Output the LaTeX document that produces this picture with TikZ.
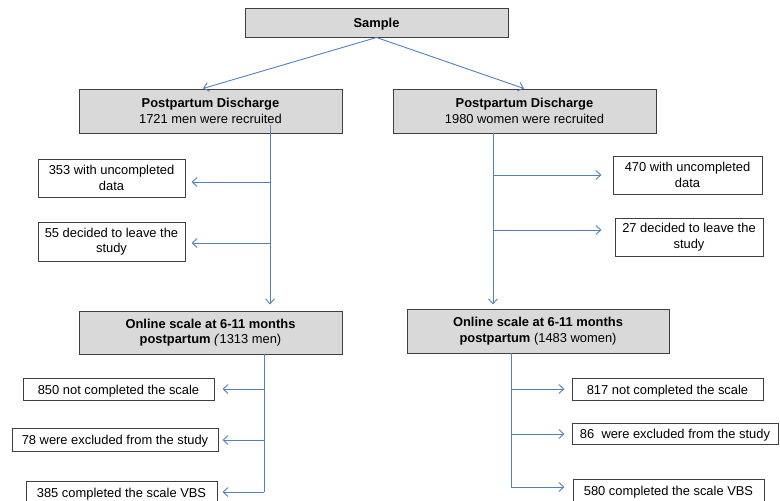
\documentclass[tikz,border=0pt]{standalone}
\usepackage{fontspec}
\setmainfont{Liberation Sans}
\usetikzlibrary{arrows.meta}
\definecolor{lineblue}{HTML}{4F81BD}
\definecolor{boxgray}{HTML}{D9D9D9}
\definecolor{edgegray}{HTML}{3F3F3F}
\begin{document}
\begin{tikzpicture}[x=1pt,y=-1pt,
  every node/.style={font=\fontsize{12.9}{15.5}\selectfont, inner sep=0pt, align=center,
    execute at begin node={\rule{0pt}{13pt}}},
  graybox/.style={draw=edgegray, fill=boxgray, line width=1pt},
  whitebox/.style={draw=edgegray, fill=white, line width=1pt},
  arr/.style={draw=lineblue, line width=0.9pt, -{Straight Barb[length=5pt,width=9pt]}},
  ln/.style={draw=lineblue, line width=0.9pt}]
\useasboundingbox (0,0) rectangle (780,501);
\clip (0,0) rectangle (780,501);

% main boxes
\node[graybox, minimum width=263pt, minimum height=29pt] (sample) at (376.5,22.5) {\textbf{Sample}};
\node[graybox, minimum width=263pt, minimum height=44pt] (pdL) at (210.5,111) {\textbf{Postpartum Discharge}\\1721 men were recruited};
\node[graybox, minimum width=263pt, minimum height=44pt] (pdR) at (524.5,111) {\textbf{Postpartum Discharge}\\1980 women were recruited};
\node[graybox, minimum width=263pt, minimum height=43pt] (onL) at (210.5,332.5) {\textbf{Online scale at 6-11 months}\\\textbf{postpartum} \textit{(}1313 men)};
\node[graybox, minimum width=262pt, minimum height=44pt] (onR) at (538,331) {\textbf{Online scale at 6-11 months}\\\textbf{postpartum} (1483 women)};

% side boxes
\node[whitebox, minimum width=147pt, minimum height=38pt] (u353) at (111.5,178) {353 with uncompleted\\data};
\node[whitebox, minimum width=147pt, minimum height=39pt] (l55) at (111.5,241.5) {55 decided to leave the\\study};
\node[whitebox, minimum width=149pt, minimum height=38pt] (u470) at (687.5,175) {470 with uncompleted\\data};
\node[whitebox, minimum width=148pt, minimum height=38pt] (l27) at (689,237) {27 decided to leave the\\study};

\node[whitebox, minimum width=191pt, minimum height=22pt] (n850) at (118.5,389) {850 not completed the scale};
\node[whitebox, minimum width=206pt, minimum height=23pt] (e78) at (115,439.5) {78 were excluded from the study};
\node[whitebox, minimum width=191pt, minimum height=23pt] (c385) at (121.5,492.5) {385 completed the scale VBS};
\node[whitebox, minimum width=191pt, minimum height=22pt] (n817) at (667.5,389) {817 not completed the scale};
\node[whitebox, minimum width=206pt, minimum height=21pt] (e86) at (675,433.5) {86\ \ were excluded from the study};
\node[whitebox, minimum width=191pt, minimum height=23pt] (c580) at (668.5,490.5) {580 completed the scale VBS};

% sample to discharge
\draw[arr] (sample.south) -- ([xshift=-7.5pt]pdL.north);
\draw[arr] (sample.south) -- ([xshift=-0.5pt]pdR.north);

% left upper trunk
\coordinate (tL0) at (270,125);
\coordinate (tL1) at (270,182);
\coordinate (tL2) at (270,243);
\draw[arr, shorten >=6pt] (tL0) -- (tL0 |- onL.north);
\draw[arr, shorten >=6pt] (tL1) -- (tL1 -| u353.east);
\draw[arr, shorten >=6pt] (tL2) -- (tL2 -| l55.east);

% right upper trunk
\coordinate (tR0) at (493,133);
\coordinate (tR1) at (493,175);
\coordinate (tR2) at (493,230);
\draw[arr, shorten >=4pt] (tR0) -- (tR0 |- onR.north);
\draw[arr, shorten >=11pt] (tR1) -- (tR1 -| u470.west);
\draw[arr, shorten >=13pt] (tR2) -- (tR2 -| l27.west);

% left lower trunk
\coordinate (bL0) at (264,354);
\coordinate (bL1) at (264,389);
\coordinate (bL2) at (264,440);
\coordinate (bL3) at (264,492);
\draw[ln] (bL0) -- (bL3);
\draw[arr, shorten >=8pt] (bL1) -- (bL1 -| n850.east);
\draw[arr, shorten >=4pt] (bL2) -- (bL2 -| e78.east);
\draw[arr, shorten >=5pt] (bL3) -- (bL3 -| c385.east);

% right lower trunk
\coordinate (bR0) at (511,353);
\coordinate (bR1) at (511,389);
\coordinate (bR2) at (511,434);
\coordinate (bR3) at (511,487);
\draw[ln] (bR0) -- (bR3);
\draw[arr, shorten >=7pt] (bR1) -- (bR1 -| n817.west);
\draw[arr, shorten >=7pt] (bR2) -- (bR2 -| e86.west);
\draw[arr, shorten >=8pt] (bR3) -- (bR3 -| c580.west);
\end{tikzpicture}
\end{document}
